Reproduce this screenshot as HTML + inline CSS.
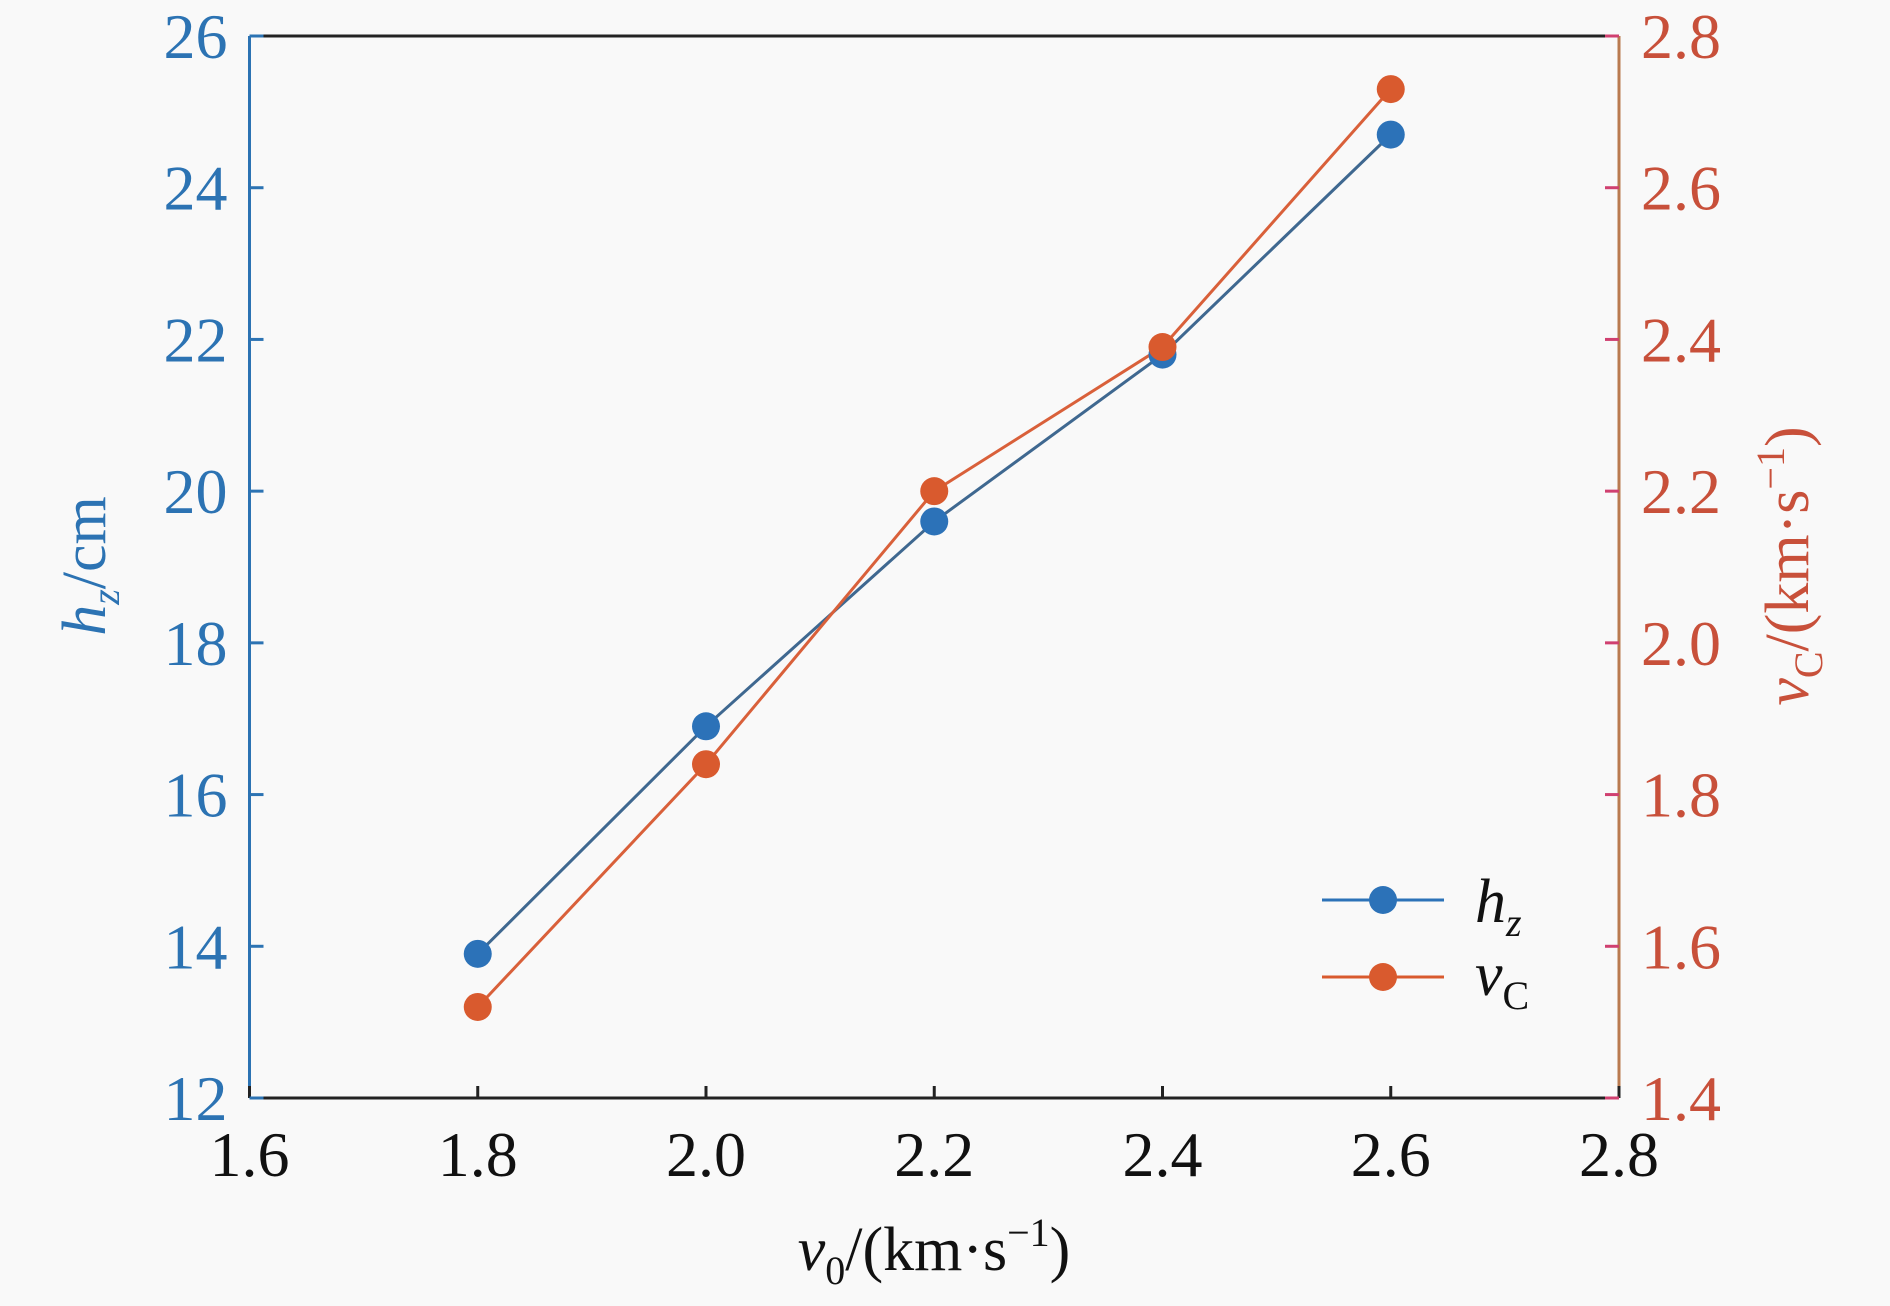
<!DOCTYPE html>
<html><head><meta charset="utf-8"><style>
html,body{margin:0;padding:0;background:#f9f9f9;}
svg, svg text{font-family:"Liberation Serif","Times New Roman",serif;}
svg{display:block;}
</style></head><body>
<svg id="chart" width="1890" height="1306" viewBox="0 0 1890 1306">
<rect width="1890" height="1306" fill="#f9f9f9"/>
<g id="g"></g>
</svg>
<script>
const categories=[1.8,2.0,2.2,2.4,2.6];
const hzValues=[13.9,16.9,19.6,21.8,24.7];
const vcValues=[1.52,1.84,2.20,2.39,2.73];
const xTicks=["1.6","1.8","2.0","2.2","2.4","2.6","2.8"];
const yLeftTicks=["12","14","16","18","20","22","24","26"];
const yRightTicks=["1.4","1.6","1.8","2.0","2.2","2.4","2.6","2.8"];

const L=249.5,R=1619,T=36,B=1098;
const x=v=>L+(v-1.6)/(2.8-1.6)*(R-L);
const yl=v=>B-(v-12)/(26-12)*(B-T);
const yr=v=>B-(v-1.4)/(2.8-1.4)*(B-T);
const NS="http://www.w3.org/2000/svg";
const g=document.getElementById('g');
function mk(tag,attrs,txt){const e=document.createElementNS(NS,tag);for(const k in attrs)e.setAttribute(k,attrs[k]);if(txt!==undefined)e.textContent=txt;g.appendChild(e);return e;}
const BLUE="#2c73b3",RLAB="#c8503a";
const FF='"Liberation Serif", serif';

let e;
e=mk('line',{x1:L,y1:T,x2:R,y2:T,stroke:'#222','stroke-width':3});


e=mk('line',{x1:L,y1:B,x2:R,y2:B,stroke:'#222','stroke-width':3});


e=mk('line',{x1:L,y1:T,x2:L,y2:B,stroke:BLUE,'stroke-width':3});


e=mk('line',{x1:R,y1:T,x2:R,y2:B,stroke:'#b97a50','stroke-width':3});



xTicks.forEach(t=>{const px=x(parseFloat(t));
 e=mk('line',{x1:px,y1:B,x2:px,y2:B-12,stroke:'#222','stroke-width':3});
 
 
 e=mk('text',{x:px,y:B+78,'font-size':64,'font-family':FF,'text-anchor':'middle',fill:'#111'},t);
 
 
});
yLeftTicks.forEach(t=>{const py=yl(parseFloat(t));
 e=mk('line',{x1:L,y1:py,x2:L+14,y2:py,stroke:BLUE,'stroke-width':3});
 
 
 e=mk('text',{x:L-22,y:py+22,'font-size':64,'font-family':FF,'text-anchor':'end',fill:BLUE},t);
 
 
});
yRightTicks.forEach(t=>{const py=yr(parseFloat(t));
 e=mk('line',{x1:R-14,y1:py,x2:R,y2:py,stroke:'#d04070','stroke-width':3});
 
 
 e=mk('text',{x:R+22,y:py+22,'font-size':64,'font-family':FF,'text-anchor':'start',fill:RLAB},t);
 
 
});

e=mk('polyline',{points:categories.map((c,i)=>x(c)+','+yl(hzValues[i])).join(' '),fill:'none',stroke:'#3f6890','stroke-width':3});


e=mk('polyline',{points:categories.map((c,i)=>x(c)+','+yr(vcValues[i])).join(' '),fill:'none',stroke:'#d9603a','stroke-width':3});


categories.forEach((c,i)=>{
 e=mk('circle',{cx:x(c),cy:yl(hzValues[i]),r:14,fill:'#2c72b8'});
 
 
});
categories.forEach((c,i)=>{
 e=mk('circle',{cx:x(c),cy:yr(vcValues[i]),r:14,fill:'#d95a2e'});
 
 
});

e=mk('line',{x1:1322,y1:900,x2:1444,y2:900,stroke:'#2c72b8','stroke-width':3});


e=mk('circle',{cx:1383,cy:900,r:14,fill:'#2c72b8'});


e=mk('line',{x1:1322,y1:977,x2:1444,y2:977,stroke:'#d95a2e','stroke-width':3});


e=mk('circle',{cx:1383,cy:977,r:14,fill:'#d95a2e'});


e=mk('text',{x:1475,y:922,'font-size':62,'font-family':FF,'font-style':'italic',fill:'#111'});
e.innerHTML='h<tspan font-size="40" dy="14">z</tspan>';


e=mk('text',{x:1475,y:995,'font-size':62,'font-family':FF,'font-style':'italic',fill:'#111'});
e.innerHTML='v<tspan font-size="40" dy="14" font-style="normal">C</tspan>';



e=mk('text',{x:934,y:1270,'font-size':62,'font-family':FF,'text-anchor':'middle',fill:'#111'});
e.innerHTML='<tspan font-style="italic">v</tspan><tspan font-size="40" dy="14">0</tspan><tspan dy="-14">/(km·s</tspan><tspan font-size="40" dy="-24">−1</tspan><tspan dy="24">)</tspan>';


e=mk('text',{x:0,y:0,'font-size':62,'font-family':FF,'text-anchor':'middle',fill:BLUE,transform:'translate(105,566) rotate(-90)'});
e.innerHTML='<tspan font-style="italic">h</tspan><tspan font-size="40" dy="14" font-style="italic">z</tspan><tspan dy="-14">/cm</tspan>';


e=mk('text',{x:0,y:0,'font-size':62,'font-family':FF,'text-anchor':'middle',fill:RLAB,transform:'translate(1808,566) rotate(-90)'});
e.innerHTML='<tspan font-style="italic">v</tspan><tspan font-size="40" dy="14">C</tspan><tspan dy="-14">/(km·s</tspan><tspan font-size="40" dy="-24">−1</tspan><tspan dy="24">)</tspan>';


</script>
</body></html>
